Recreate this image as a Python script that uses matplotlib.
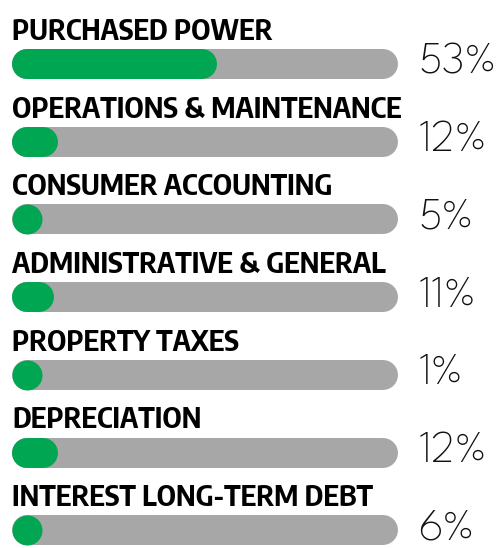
import matplotlib
matplotlib.use("Agg")
import matplotlib.pyplot as plt

categories = ["PURCHASED POWER", "OPERATIONS & MAINTENANCE", "CONSUMER ACCOUNTING",
              "ADMINISTRATIVE & GENERAL", "PROPERTY TAXES", "DEPRECIATION",
              "INTEREST LONG-TERM DEBT"]
values = [53, 12, 5, 11, 1, 12, 6]
labels = ["53%", "12%", "5%", "11%", "1%", "12%", "6%"]

GREEN = "#00a651"
GRAY = "#a7a7a7"

W, H, DPI = 4.99, 5.48, 100
fig = plt.figure(figsize=(W, H), dpi=DPI)
left_px, right_px = 12, 398
ax = fig.add_axes([left_px / 499, 0, (right_px - left_px) / 499, 1])
ax.set_xlim(0, 100)
ax.set_ylim(6.229, -0.824)
ax.axis("off")

bar_h_px = 30
lw_pt = bar_h_px * 72 / DPI
r = (bar_h_px / 2) / (right_px - left_px) * 100  # cap radius in data units

for i, (cat, v, lab) in enumerate(zip(categories, values, labels)):
    ax.plot([r, 100 - r], [i, i], color=GRAY, lw=lw_pt, solid_capstyle="round")
    end = v - r
    if end > r:
        ax.plot([r, end], [i, i], color=GREEN, lw=lw_pt, solid_capstyle="round")
    else:
        ax.plot([r], [i], marker="o", markersize=lw_pt, color=GREEN, markeredgewidth=0)
    ax.text(0, i - 0.31, cat, fontsize=21, fontweight="bold", family="Encode Sans Condensed",
            va="baseline", ha="left", color="black")
    ax.text(105.2, i - 0.02, lab, fontsize=33, fontweight="light", family="League Spartan",
            va="center", ha="left", color="#111111")

fig.savefig("out.png", dpi=DPI)
